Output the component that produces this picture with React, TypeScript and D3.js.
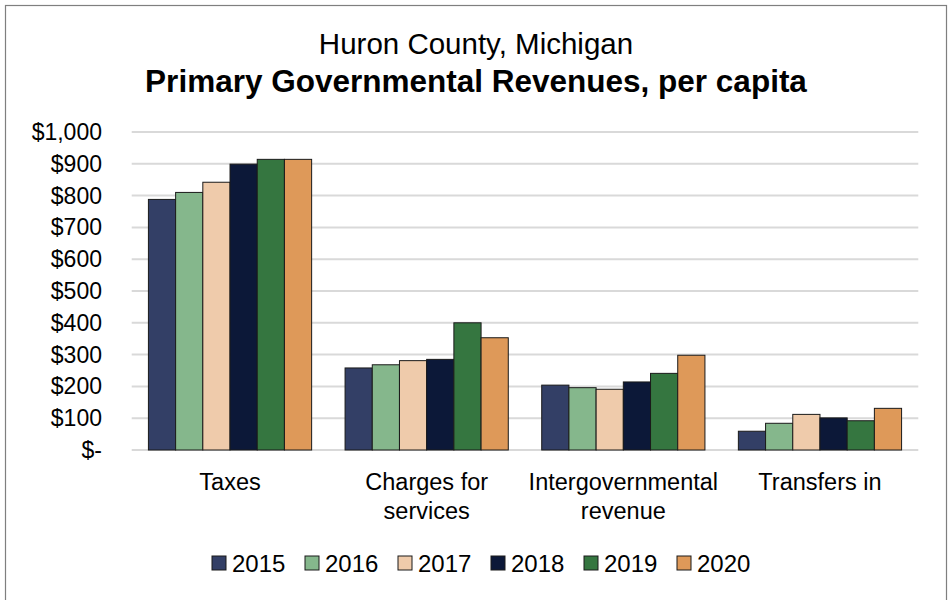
import React from 'react';
import * as d3 from 'd3';

const categories = ['Taxes', 'Charges for services', 'Intergovernmental revenue', 'Transfers in'];
const categoryLines = [['Taxes'], ['Charges for', 'services'], ['Intergovernmental', 'revenue'], ['Transfers in']];
const years = ['2015', '2016', '2017', '2018', '2019', '2020'];
const colors = ['#333F66', '#85B78C', '#EFCBAB', '#0C1838', '#357640', '#DE9959'];

const v2015 = [788, 258, 204, 59];
const v2016 = [810, 268, 196, 84];
const v2017 = [842, 281, 191, 112];
const v2018 = [899, 285, 214, 101];
const v2019 = [914, 400, 241, 92];
const v2020 = [914, 353, 298, 131];
const series = [v2015, v2016, v2017, v2018, v2019, v2020];

const yTicks = [0, 100, 200, 300, 400, 500, 600, 700, 800, 900, 1000];

const W = 951;
const H = 600;
const FONT = '"Liberation Sans", Arial, sans-serif';

const App = () => {
    const left = 131.7;
    const right = 918.3;
    const top = 132;
    const bottom = 450;

    const x0 = d3.scaleBand().domain(categories).range([left, right]).paddingInner(0.17).paddingOuter(0.085);
    const x1 = d3.scaleBand().domain(years).range([0, x0.bandwidth()]);
    const y = d3.scaleLinear().domain([0, 1000]).range([bottom, top]);

    const fmt = (v: number) => (v === 0 ? '$-' : '$' + d3.format(',')(v));

    // legend layout
    const legendX = [212, 305, 398, 491, 584, 677];

    return (
        <svg width={W} height={H} style={{ position: 'absolute', left: 0, top: 0, fontFamily: FONT }}>
            <rect x={0} y={0} width={W} height={H} fill="#fff" />
            <rect x={5.5} y={5.5} width={941} height={620} fill="none" stroke="#7f7f7f" strokeWidth={1.2} />

            <text x={476} y={54} textAnchor="middle" fontSize={29.5} fill="#000">Huron County, Michigan</text>
            <text x={476} y={92} textAnchor="middle" fontSize={31.5} fontWeight="bold" fill="#000">
                Primary Governmental Revenues, per capita
            </text>

            {yTicks.map(t => (
                <g key={t}>
                    <line x1={left} x2={right} y1={y(t)} y2={y(t)} stroke="#d9d9d9" strokeWidth={2} />
                    <text x={102} y={y(t) + 8} textAnchor="end" fontSize={23} fill="#000">{fmt(t)}</text>
                </g>
            ))}

            {categories.map((c, ci) => (
                <g key={c} transform={`translate(${x0(c)},0)`}>
                    {years.map((yr, yi) => (
                        <rect
                            key={yr}
                            x={x1(yr)}
                            y={y(series[yi][ci])}
                            width={x1.bandwidth()}
                            height={bottom - y(series[yi][ci])}
                            fill={colors[yi]}
                            stroke="#1a1a1a"
                            strokeWidth={1}
                        />
                    ))}
                </g>
            ))}

            {categories.map((c, ci) => (
                <text key={c} x={(x0(c) as number) + x0.bandwidth() / 2} y={490} textAnchor="middle" fontSize={23.5} fill="#000">
                    {categoryLines[ci].map((ln, li) => (
                        <tspan key={li} x={(x0(c) as number) + x0.bandwidth() / 2} dy={li === 0 ? 0 : 29}>{ln}</tspan>
                    ))}
                </text>
            ))}

            {years.map((yr, i) => (
                <g key={yr} transform={`translate(${legendX[i]},556)`}>
                    <rect x={0} y={0} width={14} height={14} fill={colors[i]} stroke="#1a1a1a" strokeWidth={1} />
                    <text x={20} y={16} fontSize={24} fill="#000">{yr}</text>
                </g>
            ))}
        </svg>
    );
};

export default App;
